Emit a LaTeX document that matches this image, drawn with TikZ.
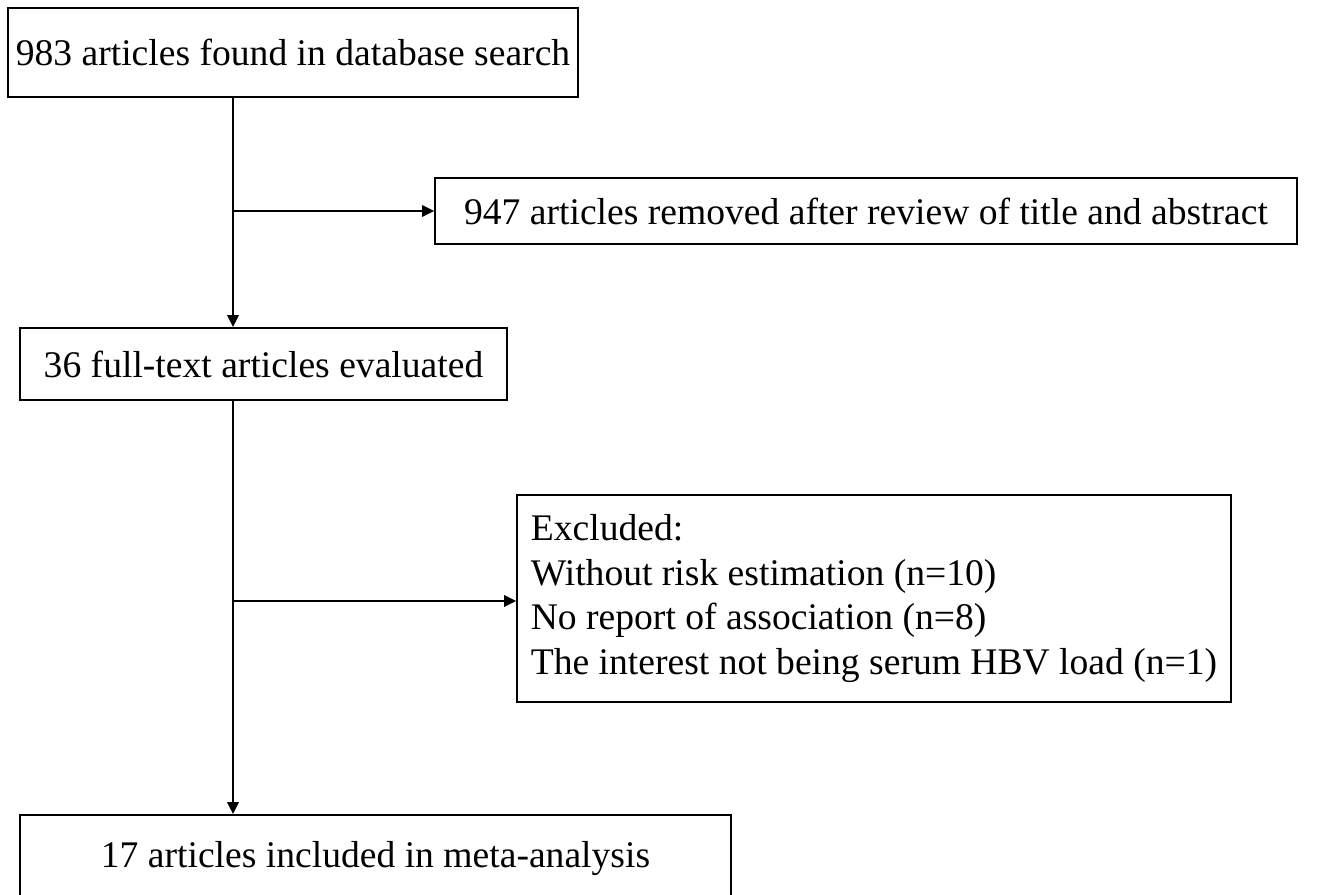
\documentclass[tikz,border=0pt]{standalone}
\usepackage{fontspec}
\setmainfont{Liberation Serif}
\usepackage{tikz}
\usetikzlibrary{arrows.meta}
\tikzset{
    block/.style={
        rectangle, draw=black, line width=1.1pt,
        inner sep=0pt, align=center,
        font=\fontsize{21.4}{25.6}\selectfont
    },
    msg/.style={
        -{Triangle[length=0.24cm, width=0.23cm]}, line width=1pt
    }
}
\begin{document}
\begin{tikzpicture}[x=0.02cm, y=-0.02cm]
\useasboundingbox (0,0) rectangle (1326,894);

\node[block, minimum width=11.4cm, minimum height=1.78cm] (search) at (293,52.5)
    {983 articles found in database search};
\node[block, minimum width=17.24cm, minimum height=1.32cm] (removed) at (866,211)
    {947 articles removed after review of title and abstract};
\node[block, minimum width=9.74cm, minimum height=1.44cm] (fulltext) at (263.5,364)
    {36 full-text articles evaluated};
\node[block, minimum width=14.28cm, minimum height=4.14cm, align=left] (excluded) at (874,598.5)
    {Excluded:\\
     Without risk estimation (n=10)\\
     No report of association (n=8)\\
     The interest not being serum HBV load (n=1)};
\node[block, minimum width=14.22cm, minimum height=1.72cm] (included) at (375.5,858)
    {17 articles included in meta-analysis};

% trunk and side branches
\coordinate (trunk) at (233,0);
\coordinate (split1) at (233,211);
\coordinate (split2) at (233,601);

\draw[msg] (search.south -| trunk) -- (fulltext.north -| trunk);
\draw[msg] (split1) -- (removed.west);
\draw[msg] (fulltext.south -| trunk) -- (included.north -| trunk);
\draw[msg] (split2) -- (split2 -| excluded.west);

\end{tikzpicture}
\end{document}
